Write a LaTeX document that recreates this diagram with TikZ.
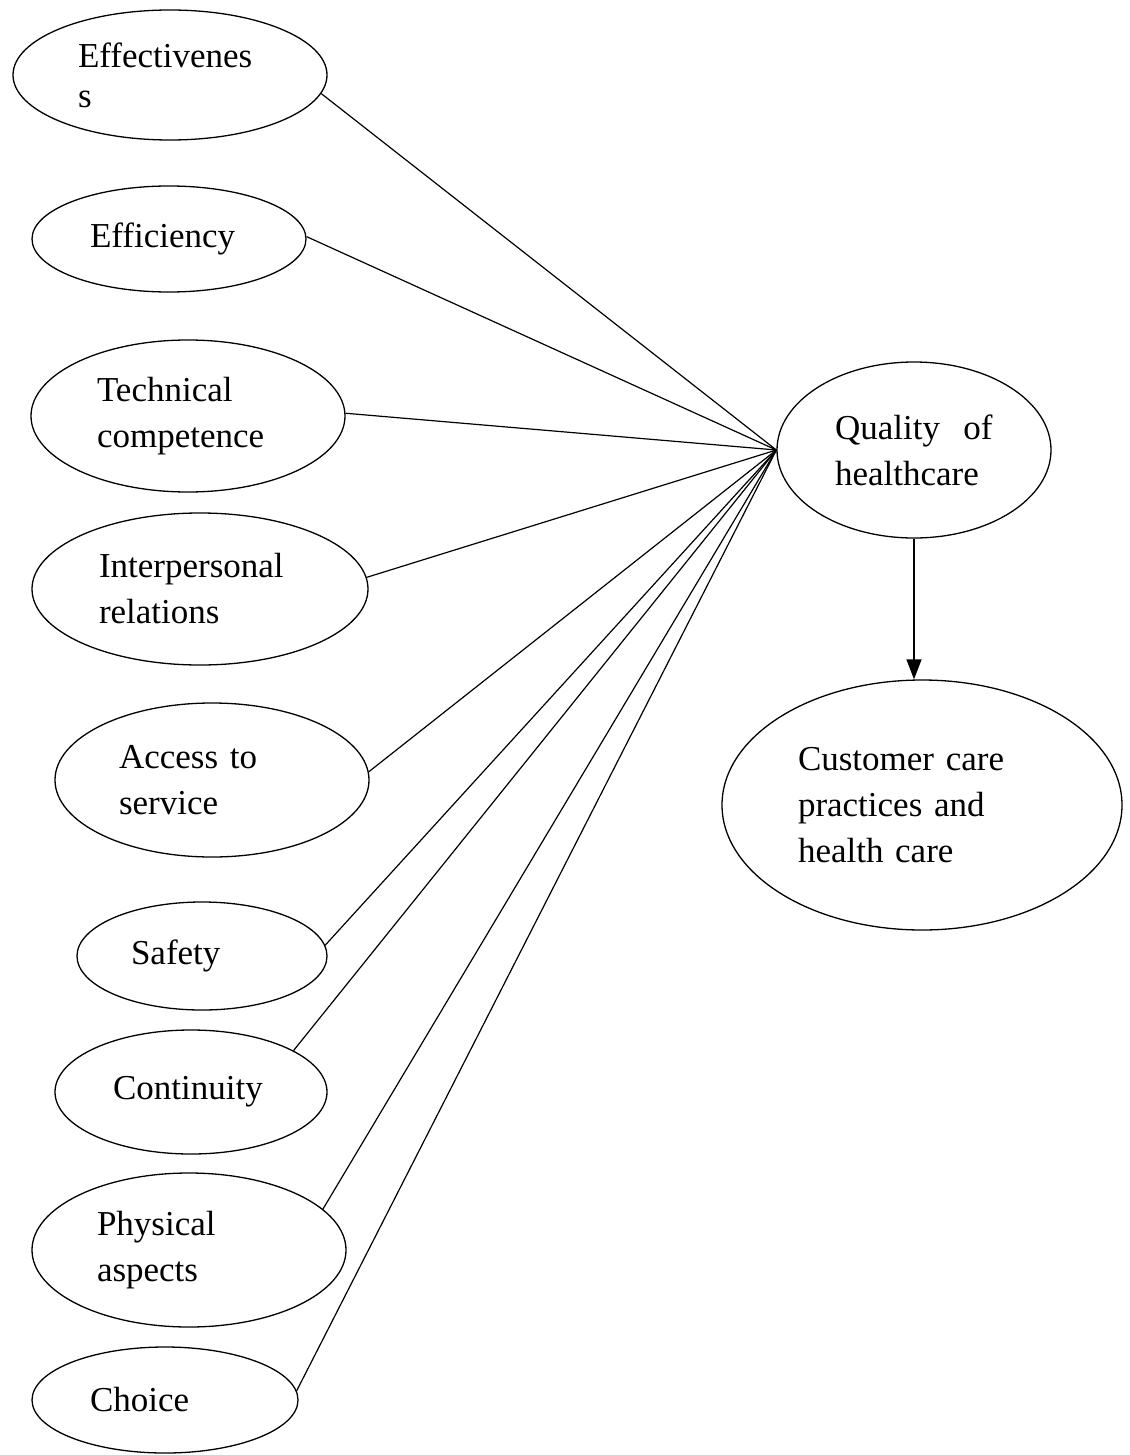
\documentclass[tikz,border=0pt]{standalone}
\usepackage{fontspec}
\setmainfont{Liberation Serif}
\usetikzlibrary{shapes.geometric,arrows.meta}

\begin{document}
\begin{tikzpicture}[x=1pt,y=1pt,line width=1.3pt,
      main node/.style={ellipse,draw,inner sep=0pt,align=left,
        font=\fontsize{35}{46}\selectfont}]
    \useasboundingbox (0,0) rectangle (1129,-1455);
    \node[main node,minimum width=314,minimum height=130,text width=184] (eff) at (170,-75) {Effectivenes\\[-6pt]s};
    \node[main node,minimum width=274,minimum height=106,text width=158] (effi) at (169,-239) {Efficiency};
    \node[main node,minimum width=314,minimum height=152,text width=182] (tech) at (188,-416) {Technical\\competence};
    \node[main node,minimum width=336,minimum height=152,text width=202] (inter) at (200,-589) {Interpersonal\\relations};
    \node[main node,minimum width=314,minimum height=154,text width=186] (acc) at (212,-780) {Access to\\service};
    \node[main node,minimum width=250,minimum height=108,text width=142] (saf) at (202,-956) {Safety};
    \node[main node,minimum width=272,minimum height=124,text width=156] (cont) at (191,-1092) {Continuity};
    \node[main node,minimum width=314,minimum height=154,text width=184] (phys) at (189,-1250) {Physical\\aspects};
    \node[main node,minimum width=266,minimum height=106,text width=150] (choice) at (165,-1400) {Choice};
    \node[main node,minimum width=274,minimum height=176,text width=158] (qual) at (914,-450) {Quality~ of\\healthcare};
    \node[main node,minimum width=400,minimum height=250,text width=248] (cust) at (922,-805) {Customer care\\practices and\\health care};
    \path[line width=1.2pt]
    (eff.-7) edge (qual.west)
    (effi.1) edge (qual.west)
    (tech.1) edge (qual.west)
    (inter.4) edge (qual.west)
    (acc.3) edge (qual.west)
    (saf.5) edge (qual.west)
    (cont.22) edge (qual.west)
    (phys.17) edge (qual.west)
    (choice.4) edge (qual.west)
    ;
    \draw[-{Triangle[length=20pt,width=15pt]}] (qual.south) -- (qual.south |- cust.north);
  \end{tikzpicture}
\end{document}
